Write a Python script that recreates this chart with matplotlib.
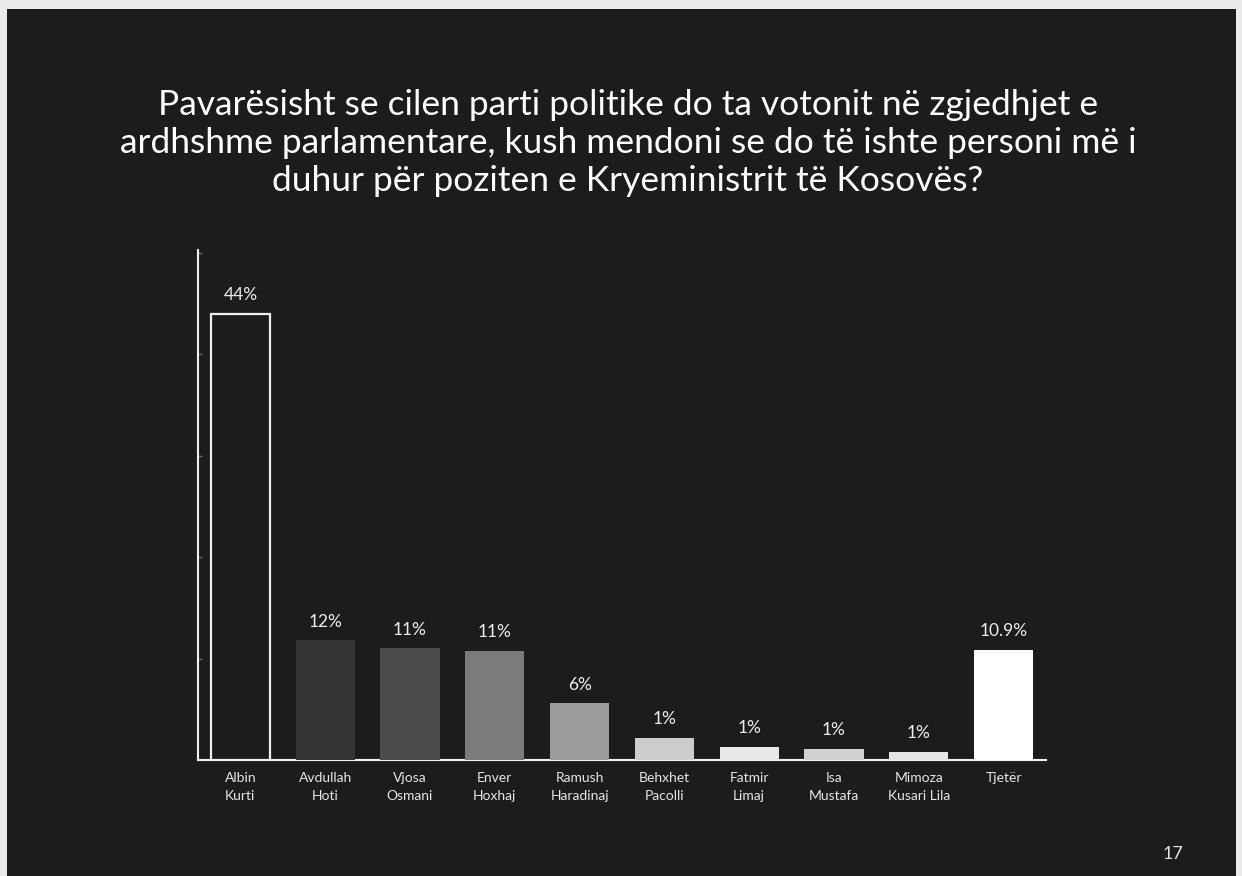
import matplotlib
matplotlib.use("Agg")
import matplotlib.pyplot as plt
from matplotlib.patches import Rectangle

candidates = ["Albin\nKurti", "Avdullah\nHoti", "Vjosa\nOsmani", "Enver\nHoxhaj", "Ramush\nHaradinaj",
              "Behxhet\nPacolli", "Fatmir\nLimaj", "Isa\nMustafa", "Mimoza\nKusari Lila", "Tjetër"]
bar_values = [44, 11.8, 11.0, 10.75, 5.6, 2.2, 1.3, 1.1, 0.8, 10.85]
value_labels = ["44%", "12%", "11%", "11%", "6%", "1%", "1%", "1%", "1%", "10.9%"]
bar_colors = ["#1c1c1c", "#343434", "#4b4b4b", "#7b7b7b", "#9b9b9b",
              "#cdcdcd", "#e8e8e8", "#d0d0d0", "#e6e6e6", "#ffffff"]
title = ("Pavarësisht se cilen parti politike do ta votonit në zgjedhjet e\n"
         "ardhshme parlamentare, kush mendoni se do të ishte personi më i\n"
         "duhur për poziten e Kryeministrit të Kosovës?")
page_number = "17"

plt.rcParams['font.family'] = ['Lato', 'DejaVu Sans']

W, H = 1242, 876
fig = plt.figure(figsize=(W / 100, H / 100), dpi=100)
fig.patch.set_facecolor("#ebebeb")
bg = Rectangle((7 / W, 0), (1236 - 7) / W, (H - 9) / H,
               transform=fig.transFigure, facecolor="#1c1c1c",
               edgecolor="none", zorder=-10)
fig.add_artist(bg)

fig.text(628 / W, 1 - 143 / H, title, ha="center", va="center", color="white",
         fontsize=25.5, linespacing=1.22)
fig.text(1173 / W, 1 - 854 / H, page_number, ha="center", va="center",
         color="#e0e0e0", fontsize=13)

ax = fig.add_axes([198 / W, (H - 760) / H, (1046 - 198) / W, (760 - 250) / H])
ax.set_facecolor("none")
ax.set_zorder(1)
x = list(range(len(candidates)))
for i, (v, c) in enumerate(zip(bar_values, bar_colors)):
    if i == 0:
        ax.bar(i, v, width=0.7, color=c, edgecolor="#f0f0f0", linewidth=1.6, zorder=3)
    else:
        ax.bar(i, v, width=0.7, color=c, edgecolor="none", zorder=3)
    ax.text(i, v + 1.05, value_labels[i], ha="center", va="bottom",
            color="#eeeeee", fontsize=12.5)

ax.set_xlim(-0.5, 9.5)
ax.set_ylim(0, 50.3)
for s in ["top", "right"]:
    ax.spines[s].set_visible(False)
for s in ["left", "bottom"]:
    ax.spines[s].set_color("#f0f0f0")
    ax.spines[s].set_linewidth(1.5)
ax.set_yticks([10, 20, 30, 40, 50])
ax.set_yticklabels([])
ax.tick_params(axis="y", length=3, width=1, color="#666666", direction="in")
ax.set_xticks(x)
ax.set_xticklabels(candidates, color="#e6e6e6", fontsize=10, linespacing=1.55)
ax.tick_params(axis="x", length=0, pad=9)

fig.savefig("out.png", dpi=100, facecolor=fig.get_facecolor())
